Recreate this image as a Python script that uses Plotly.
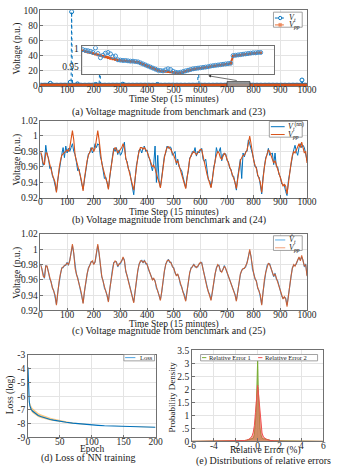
import plotly.graph_objects as go

W, H = 341, 476
def X(p): return p / W
def Y(p): return 1 - p / H

FONT = "Liberation Serif, Times New Roman, serif"
BLUE = "#0072BD"
ORANGE = "#D95319"

# ---------------- data ----------------
t5 = list(range(0, 1001, 5))

v_pp = [0.980,0.975,0.965,0.963,0.978,0.978,0.970,0.962,0.957,0.950,
        0.945,0.940,0.927,0.945,0.958,0.968,0.975,0.977,0.978,0.980,
        0.982,0.980,0.985,0.998,1.007,0.995,0.975,0.968,0.962,0.955,
        0.948,0.940,0.929,0.945,0.958,0.968,0.975,0.980,0.983,0.985,
        0.980,0.984,0.995,1.007,0.995,0.975,0.965,0.958,0.950,0.945,
        0.940,0.931,0.948,0.962,0.975,0.982,0.985,0.983,0.978,0.980,
        0.982,0.985,0.990,0.985,0.972,0.965,0.960,0.952,0.945,0.940,
        0.930,0.945,0.960,0.972,0.980,0.985,0.985,0.983,0.985,0.982,
        0.980,0.975,0.968,0.965,0.960,0.962,0.958,0.950,0.945,0.940,
        0.933,0.945,0.960,0.972,0.980,0.985,0.986,0.984,0.982,0.978,
        0.975,0.970,0.965,0.968,0.962,0.955,0.950,0.945,0.940,0.932,
        0.945,0.960,0.970,0.975,0.978,0.980,0.978,0.976,0.978,0.980,
        0.983,0.982,0.975,0.965,0.958,0.950,0.945,0.940,0.933,0.945,
        0.958,0.968,0.975,0.980,0.978,0.972,0.970,0.975,0.978,0.975,
        0.970,0.965,0.960,0.955,0.950,0.945,0.940,0.932,0.945,0.958,
        0.968,0.972,0.975,0.975,0.978,0.982,0.990,1.000,0.990,0.975,
        0.968,0.962,0.958,0.950,0.945,0.940,0.927,0.945,0.960,0.970,
        0.978,0.982,0.980,0.975,0.968,0.965,0.968,0.962,0.958,0.952,
        0.945,0.940,0.935,0.938,0.935,0.925,0.940,0.955,0.965,0.975,
        0.980,0.978,0.982,0.985,0.990,0.985,0.992,0.985,0.978,0.980,
        0.965]

v_nn = [0.978,0.972,0.962,0.966,0.988,0.975,0.972,0.958,0.960,0.948,
        0.944,0.935,0.928,0.943,0.956,0.966,0.976,0.985,0.972,0.987,
        0.978,0.984,0.980,0.985,0.990,0.980,0.976,0.966,0.955,0.957,
        0.946,0.938,0.931,0.943,0.960,0.966,0.977,0.978,0.985,0.978,
        0.982,0.990,0.985,0.990,0.988,0.973,0.967,0.955,0.945,0.947,
        0.938,0.932,0.946,0.963,0.973,0.984,0.980,0.985,0.976,0.982,
        0.975,0.978,0.984,0.992,0.970,0.967,0.957,0.954,0.943,0.935,
        0.924,0.943,0.962,0.970,0.982,0.983,0.978,0.985,0.987,0.980,
        0.982,0.973,0.970,0.962,0.955,0.964,0.987,0.940,0.975,0.942,
        0.934,0.947,0.958,0.974,0.978,0.987,0.984,0.986,0.985,0.975,
        0.977,0.980,0.963,0.970,0.960,0.957,0.955,0.947,0.938,0.933,
        0.947,0.955,0.972,0.973,0.980,0.978,0.985,0.974,0.980,0.978,
        0.981,0.984,0.970,0.967,0.970,0.952,0.943,0.942,0.934,0.943,
        0.960,0.966,0.985,0.978,0.980,0.985,0.968,0.977,0.976,0.977,
        0.968,0.967,0.958,0.957,0.948,0.948,0.938,0.930,0.947,0.956,
        0.970,0.945,0.978,0.973,0.980,0.980,0.995,0.990,0.985,0.977,
        0.970,0.960,0.960,0.948,0.947,0.938,0.925,0.947,0.958,0.972,
        0.976,0.984,0.975,0.977,0.978,0.963,0.978,0.960,0.960,0.950,
        0.947,0.938,0.937,0.936,0.928,0.923,0.942,0.953,0.967,0.973,
        0.982,0.988,0.980,0.975,0.985,0.990,0.985,0.988,0.985,0.975,
        0.968]

v_hat = [0.981,0.974,0.966,0.962,0.979,0.977,0.971,0.961,0.958,0.949,
         0.946,0.939,0.928,0.944,0.959,0.967,0.976,0.976,0.979,0.979,
         0.983,0.979,0.986,0.996,1.005,0.994,0.976,0.967,0.963,0.954,
         0.949,0.939,0.930,0.944,0.959,0.967,0.976,0.979,0.984,0.984,
         0.981,0.983,0.994,1.005,0.994,0.976,0.964,0.959,0.949,0.946,
         0.939,0.932,0.947,0.963,0.974,0.983,0.984,0.984,0.977,0.981,
         0.981,0.986,0.989,0.986,0.971,0.966,0.959,0.953,0.944,0.941,
         0.931,0.944,0.961,0.971,0.981,0.984,0.986,0.982,0.986,0.981,
         0.981,0.974,0.969,0.964,0.961,0.961,0.959,0.949,0.946,0.939,
         0.934,0.944,0.961,0.971,0.981,0.984,0.987,0.983,0.983,0.977,
         0.976,0.969,0.966,0.967,0.963,0.954,0.951,0.944,0.941,0.933,
         0.944,0.961,0.969,0.976,0.977,0.981,0.977,0.977,0.977,0.981,
         0.982,0.983,0.974,0.966,0.957,0.951,0.944,0.941,0.934,0.944,
         0.959,0.967,0.976,0.979,0.979,0.971,0.971,0.974,0.979,0.974,
         0.971,0.964,0.961,0.954,0.951,0.944,0.941,0.933,0.944,0.959,
         0.967,0.973,0.974,0.976,0.977,0.983,0.989,0.998,0.991,0.974,
         0.969,0.961,0.959,0.949,0.946,0.939,0.928,0.944,0.961,0.969,
         0.979,0.981,0.981,0.974,0.969,0.964,0.969,0.961,0.959,0.951,
         0.946,0.939,0.936,0.937,0.936,0.927,0.939,0.956,0.964,0.976,
         0.979,0.979,0.981,0.986,0.989,0.986,0.990,0.986,0.977,0.981,
         0.966]

# outliers of the benchmark voltage in panel (a)
a_out_t = [37, 112, 117, 139, 207, 224, 309, 439, 592, 981]
a_out_v = [3.5, 5.0, 98.0, 2.7, 2.0, 40.0, 2.3, 2.0, 35.0, 7.8]

# zoomed inset of panel (a)
inset_t = list(range(700, 772))
inset_vt = [0.998,0.996,0.995,0.993,0.990,1.003,0.987,0.975,0.982,0.988,
            0.990,0.986,0.978,0.980,0.969,0.968,0.967,0.967,0.966,0.965,
            0.965,0.964,0.963,0.960,0.957,0.954,0.951,0.948,0.945,0.942,
            0.939,0.938,0.937,0.940,0.943,0.941,0.936,0.933,0.932,0.933,
            0.935,0.937,0.939,0.941,0.943,0.944,0.945,0.946,0.947,0.948,
            0.949,0.951,0.952,0.953,0.954,0.955,0.956,0.957,0.958,0.959,
            0.981,0.982,0.983,0.984,0.985,0.986,0.987,0.988,0.989,0.989,
            0.990,0.990]
inset_vpp = [0.995,0.993,0.991,0.989,0.987,0.985,0.983,0.981,0.979,0.977,
             0.975,0.973,0.971,0.969,0.968,0.967,0.966,0.966,0.965,0.964,
             0.964,0.963,0.962,0.959,0.956,0.953,0.950,0.947,0.944,0.941,
             0.938,0.937,0.936,0.936,0.935,0.934,0.933,0.932,0.931,0.932,
             0.934,0.936,0.938,0.940,0.942,0.943,0.944,0.945,0.946,0.947,
             0.948,0.950,0.951,0.952,0.953,0.954,0.955,0.956,0.957,0.958,
             0.980,0.981,0.982,0.983,0.984,0.985,0.986,0.987,0.988,0.988,
             0.989,0.989]

# panel (d)
epochs = [0,1,2,3,4,5,7,10,13,16,20,25,30,35,40,45,50,60,70,80,90,100,
          110,120,130,140,150,160,170,180,190,200]
loss = [-3.9,-5.8,-6.4,-6.7,-6.85,-6.95,-7.08,-7.2,-7.32,-7.4,-7.48,-7.56,
        -7.63,-7.69,-7.74,-7.79,-7.83,-7.9,-7.96,-8.01,-8.05,-8.09,
        -8.12,-8.15,-8.17,-8.19,-8.21,-8.22,-8.23,-8.24,-8.25,-8.26]
loss_hi = [-3.9,-5.65,-6.2,-6.45,-6.6,-6.7,-6.85,-6.98,-7.12,-7.22,-7.31,-7.41,
           -7.5,-7.57,-7.63,-7.69,-7.74,-7.83,-7.91,-7.97,-8.02,-8.07,
           -8.11,-8.14,-8.16,-8.18,-8.2,-8.21,-8.22,-8.23,-8.24,-8.25]
loss_lo = [-3.9,-5.95,-6.55,-6.85,-7.0,-7.1,-7.22,-7.34,-7.45,-7.52,-7.59,-7.66,
           -7.72,-7.77,-7.81,-7.85,-7.89,-7.95,-8.0,-8.04,-8.07,-8.1,
           -8.13,-8.16,-8.18,-8.2,-8.22,-8.23,-8.24,-8.25,-8.26,-8.27]

# panel (e)
err_x = [-6,-2.5,-2,-1.5,-1.2,-1.0,-0.8,-0.6,-0.5,-0.4,-0.3,-0.2,-0.15,-0.1,
         -0.05,-0.02,0,0.02,0.05,0.1,0.15,0.2,0.3,0.4,0.5,0.6,0.8,1.0,1.2,
         1.5,2,2.5,6]
dens1 = [0,0.005,0.02,0.02,0.03,0.04,0.06,0.10,0.09,0.12,0.25,0.6,1.0,1.6,
         2.3,2.9,3.1,2.8,2.1,1.5,0.9,0.55,0.25,0.12,0.09,0.10,0.08,0.05,0.03,
         0.02,0.02,0.005,0]
dens2 = [0,0.005,0.01,0.02,0.03,0.05,0.08,0.15,0.22,0.35,0.6,1.1,1.45,1.8,
         2.05,2.15,2.15,2.1,1.95,1.65,1.3,1.0,0.55,0.32,0.2,0.14,0.08,0.05,
         0.03,0.02,0.01,0.005,0]

# merged series for panel (a)
a_pts = sorted(list(zip(t5, v_hat)) + list(zip(a_out_t, a_out_v)))
a_t = [p[0] for p in a_pts]
a_vt = [p[1] for p in a_pts]

# ---------------- figure ----------------
fig = go.Figure()

# (a)
fig.add_trace(go.Scatter(x=a_t, y=a_vt, mode="lines+markers", xaxis="x", yaxis="y",
                         line=dict(color=BLUE, width=1, dash="dot"),
                         marker=dict(symbol="circle-open", size=4, color=BLUE, line=dict(width=1)),
                         showlegend=False))
fig.add_trace(go.Scatter(x=t5, y=v_pp, mode="lines+markers", xaxis="x", yaxis="y",
                         line=dict(color=ORANGE, width=2.5),
                         marker=dict(symbol="square", size=3, color=ORANGE),
                         showlegend=False))
# (b)
fig.add_trace(go.Scatter(x=t5, y=v_nn, mode="lines", xaxis="x2", yaxis="y2",
                         line=dict(color=BLUE, width=1), showlegend=False))
fig.add_trace(go.Scatter(x=t5, y=v_pp, mode="lines", xaxis="x2", yaxis="y2",
                         line=dict(color=ORANGE, width=1.1), showlegend=False))
# (c)
fig.add_trace(go.Scatter(x=t5, y=v_hat, mode="lines", xaxis="x3", yaxis="y3",
                         line=dict(color="#3d9be0", width=1.1), showlegend=False))
fig.add_trace(go.Scatter(x=t5, y=v_pp, mode="lines", xaxis="x3", yaxis="y3",
                         line=dict(color="rgba(217,83,25,0.85)", width=1.1), showlegend=False))
# (d)
fig.add_trace(go.Scatter(x=epochs, y=loss_lo, mode="lines", xaxis="x4", yaxis="y4",
                         line=dict(width=0, color="rgba(0,0,0,0)"), showlegend=False))
fig.add_trace(go.Scatter(x=epochs, y=loss_hi, mode="lines", xaxis="x4", yaxis="y4",
                         line=dict(width=0, color="rgba(0,0,0,0)"), fill="tonexty",
                         fillcolor="rgba(245,170,60,0.6)", showlegend=False))
fig.add_trace(go.Scatter(x=epochs, y=loss, mode="lines", xaxis="x4", yaxis="y4",
                         line=dict(color=BLUE, width=1.1), showlegend=False))
# (e)
fig.add_trace(go.Scatter(x=err_x, y=dens1, mode="lines", xaxis="x5", yaxis="y5",
                         line=dict(color="#77AC30", width=1), fill="tozeroy",
                         fillcolor="rgba(119,172,48,0.6)", showlegend=False))
fig.add_trace(go.Scatter(x=err_x, y=dens2, mode="lines", xaxis="x5", yaxis="y5",
                         line=dict(color="#F05050", width=1), fill="tozeroy",
                         fillcolor="rgba(240,90,80,0.55)", showlegend=False))
# inset of (a)
fig.add_trace(go.Scatter(x=inset_t, y=inset_vpp, mode="lines+markers", xaxis="x6", yaxis="y6",
                         line=dict(color=ORANGE, width=2),
                         marker=dict(symbol="square", size=2.5, color=ORANGE),
                         showlegend=False))
fig.add_trace(go.Scatter(x=inset_t, y=inset_vt, mode="markers", xaxis="x6", yaxis="y6",
                         marker=dict(symbol="circle-open", size=4, color="#3d8fd0", line=dict(width=1)),
                         showlegend=False))

LINE = "#707070"
GRID = "#e4e4e4"
TF = dict(family=FONT, size=9.5, color="#262626")

def ax(dom, rng, **kw):
    d = dict(domain=dom, range=rng, showline=True, mirror=True, linecolor=LINE,
             linewidth=0.8, showgrid=True, gridcolor=GRID, gridwidth=0.7,
             ticks="inside", ticklen=3, tickcolor=LINE, tickwidth=0.7,
             tickfont=TF, zeroline=False)
    d.update(kw)
    return d

xa_dom = [X(38), X(316)]
vticks = [0.92, 0.94, 0.96, 0.98, 1.0, 1.02]
vtext = ["0.92", "0.94", "0.96", "0.98", "1", "1.02"]
XS = -5  # pull x tick labels toward the axis

fig.update_layout(
    width=W, height=H, margin=dict(l=0, r=0, t=0, b=0),
    paper_bgcolor="white", plot_bgcolor="white", showlegend=False,
    xaxis=ax(xa_dom, [0, 1000], anchor="y", dtick=100, ticklabelstandoff=XS),
    yaxis=ax([Y(82.7), Y(5.3)], [0, 100], anchor="x", dtick=20),
    xaxis2=ax(xa_dom, [0, 1000], anchor="y2", dtick=100, ticklabelstandoff=XS),
    yaxis2=ax([Y(197), Y(118)], [0.92, 1.02], anchor="x2", tickvals=vticks, ticktext=vtext),
    xaxis3=ax(xa_dom, [0, 1000], anchor="y3", dtick=100, ticklabelstandoff=XS),
    yaxis3=ax([Y(312), Y(234)], [0.92, 1.02], anchor="x3", tickvals=vticks, ticktext=vtext),
    xaxis4=ax([X(25), X(158)], [0, 200], anchor="y4", dtick=50, ticklabelstandoff=XS),
    yaxis4=ax([Y(441.7), Y(357.5)], [-9, -3], anchor="x4",
              tickvals=[-9, -8, -7, -6, -5, -4, -3],
              ticktext=["-9", "-8", "-7", "-6", "-5", "-4", "-3"]),
    xaxis5=ax([X(196), X(333)], [-6, 6], anchor="y5", ticklabelstandoff=XS,
              tickvals=[-6, -4, -2, 0, 2, 4, 6], ticktext=["-6", "-4", "-2", "0", "2", "4", "6"]),
    yaxis5=ax([Y(445.7), Y(352.6)], [0, 3.5], anchor="x5",
              tickvals=[0, 0.5, 1, 1.5, 2, 2.5, 3, 3.5],
              ticktext=["0", ".5", "1", "1.5", "2", "2.5", "3", "3.5"]),
    xaxis6=ax([X(81), X(282)], [699.5, 776.5], anchor="y6", dtick=10, showticklabels=False,
              ticks=""),
    yaxis6=ax([Y(70.7), Y(42.3)], [0.9275, 1.0075], anchor="x6",
              tickvals=[0.95, 1.0], ticktext=["0.95", "1"], ticks=""),
)

shapes = []
annos = []

def text(x, y, s, size=9.5, angle=0, xanchor="center"):
    annos.append(dict(x=X(x), y=Y(y), xref="paper", yref="paper", text=s, showarrow=False,
                      xanchor=xanchor, yanchor="middle", textangle=angle,
                      font=dict(family=FONT, size=size, color="#1a1a1a")))

# gray zoom rectangle and arrow in (a)
shapes.append(dict(type="rect", xref="x", yref="y", x0=700, x1=786, y0=-1.5, y1=5.7,
                   fillcolor="rgba(150,150,150,0.85)", line=dict(color="#333", width=0.8),
                   layer="above"))
annos.append(dict(x=X(213), y=Y(72.3), xref="paper", yref="paper", text="", showarrow=True,
                  ax=30, ay=5, axref="pixel", ayref="pixel", arrowhead=2, arrowsize=0.8,
                  arrowwidth=0.7, arrowcolor="#333"))

# axis titles
for yy in (97, 211.7, 326.7):
    text(177, yy, "Time Step (15 minutes)", 9.5)
for yy in (44, 157.5, 273):
    text(14, yy, "Voltage (p.u.)", 9.5, angle=-90)
text(92, 453.3, "Epoch", 9.5)
text(7, 398, "Loss (log)", 9.5, angle=-90)
text(273, 455, "Relative Error (%)", 9.5)
text(175, 400, "Probability Density", 9, angle=-90)

# captions
text(172, 109, "(a) Voltage magnitude from benchmark and (23)", 10)
text(172, 219.3, "(b) Voltage magnitude from benchmark and (24)", 10)
text(172, 333.3, "(c) Voltage magnitude from benchmark and (25)", 10)
text(88, 462.3, "(d) Loss of NN training", 10)
text(271, 465.7, "(e) Distributions of relative errors", 10)

# manual legends
def box(x0, y0, x1, y1):
    shapes.append(dict(type="rect", xref="paper", yref="paper", x0=X(x0), x1=X(x1),
                       y0=Y(y1), y1=Y(y0), fillcolor="white",
                       line=dict(color="#8a8a8a", width=0.8), layer="above"))

def seg(x0, x1, y, color, width=1, dash="solid"):
    shapes.append(dict(type="line", xref="paper", yref="paper", x0=X(x0), x1=X(x1),
                       y0=Y(y), y1=Y(y), line=dict(color=color, width=width, dash=dash),
                       layer="above"))

# (a)
box(281, 7.3, 311, 22.7)
seg(282.5, 293.5, 13.3, BLUE, 1, "dot")
shapes.append(dict(type="circle", xref="paper", yref="paper", x0=X(286.3), x1=X(289.7),
                   y0=Y(15.0), y1=Y(11.6), line=dict(color=BLUE, width=1),
                   fillcolor="white", layer="above"))
seg(282.5, 293.5, 20.3, "#F2A07A", 1.5, "dash")
shapes.append(dict(type="rect", xref="paper", yref="paper", x0=X(286.5), x1=X(289.5),
                   y0=Y(21.8), y1=Y(18.8), line=dict(color="#EC8A5E", width=0.5),
                   fillcolor="#EC8A5E", layer="above"))
text(295.5, 13.3, "<i>V</i><sub><i>t</i></sub>", 8, xanchor="left")
text(295.5, 20.3, "<i>V</i><sub><i>pp</i></sub>", 8, xanchor="left")

# (b)
box(276.7, 119, 311, 135)
seg(278.3, 292.7, 124.3, BLUE, 1)
seg(278.3, 292.7, 132.3, ORANGE, 1)
text(294, 124.3, "<i>V</i><sub><i>t</i></sub><sup>(nn)</sup>", 8, xanchor="left")
text(294, 132.3, "<i>V</i><sub><i>pp</i></sub>", 8, xanchor="left")

# (c)
box(281, 235.7, 311, 250.7)
seg(282.7, 293.3, 240, "#5aaee8", 1)
seg(282.7, 293.3, 248, "#F2A07A", 1)
text(295, 240, "<i>V̂</i><sub><i>t</i></sub>", 8, xanchor="left")
text(295, 248, "<i>V</i><sub><i>pp</i></sub>", 8, xanchor="left")

# (d)
box(125, 357, 157, 363.5)
seg(126.3, 137, 360.2, "#4DA3E0", 1)
text(140, 360.2, "Loss", 6.5, xanchor="left")

# (e)
box(205, 357, 327, 363.5)
seg(206.5, 211, 360.2, "#77AC30", 1)
text(211.5, 360.2, "Relative Error 1", 6.5, xanchor="left")
seg(265, 269.5, 360.2, "#F05050", 1)
text(270.5, 360.2, "Relative Error 2", 6.5, xanchor="left")

fig.update_layout(shapes=shapes, annotations=annos)
fig.write_html("out.html", config={"displayModeBar": False},
               post_script="document.body.style.margin='0';document.body.style.overflow='hidden';")
